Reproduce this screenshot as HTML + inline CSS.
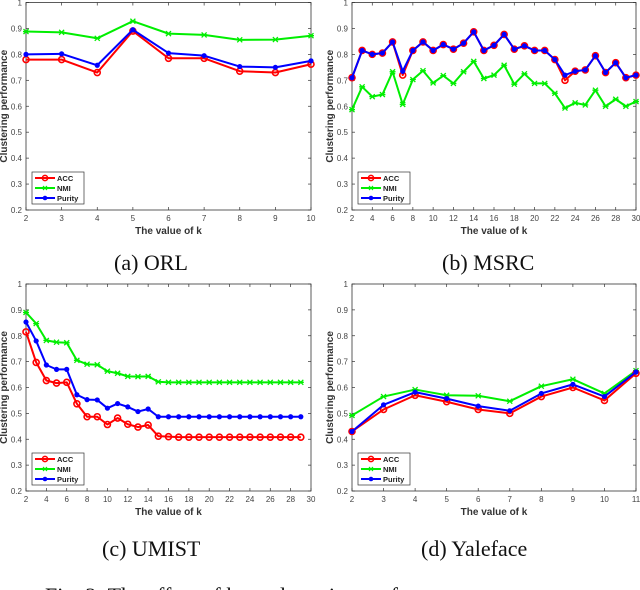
<!DOCTYPE html>
<html><head><meta charset="utf-8">
<style>
html,body{margin:0;padding:0;background:#fff;}
#wrap{position:relative;width:640px;height:590px;overflow:hidden;background:#fff;}
svg{position:absolute;left:0;top:0;}
.cap{position:absolute;font-family:"Liberation Serif",serif;font-size:22px;color:#111;white-space:nowrap;}
</style></head>
<body>
<div id="wrap">
<svg id="svg" width="640" height="590"></svg>
<div class="cap" style="left:114px;top:250px">(a) ORL</div>
<div class="cap" style="left:442px;top:250px">(b) MSRC</div>
<div class="cap" style="left:102px;top:536px">(c) UMIST</div>
<div class="cap" style="left:421px;top:536px">(d) Yaleface</div>
<div class="cap" style="left:45px;top:583px">Fig. 2: The effect of k on clustering performance</div>
</div>
<script>
const orlK=[2,3,4,5,6,7,8,9,10];
const orlACC=[.78,.78,.73,.89,.785,.785,.735,.73,.762];
const orlNMI=[.888,.885,.862,.928,.880,.875,.856,.857,.872];
const orlPur=[.80,.802,.758,.895,.805,.795,.753,.750,.775];
const orlTicks=[2,3,4,5,6,7,8,9,10];

const msrcK=[2,3,4,5,6,7,8,9,10,11,12,13,14,15,16,17,18,19,20,21,22,23,24,25,26,27,28,29,30];
const msrcACC=[.71,.815,.80,.805,.848,.72,.815,.848,.815,.838,.82,.843,.887,.815,.835,.877,.82,.833,.815,.815,.78,.70,.735,.74,.795,.73,.768,.71,.72];
const msrcNMI=[.587,.675,.637,.645,.733,.607,.703,.737,.69,.718,.688,.733,.773,.707,.72,.758,.685,.725,.688,.688,.65,.593,.613,.605,.662,.60,.627,.60,.618];
const msrcPur=[.71,.815,.80,.805,.848,.735,.815,.848,.815,.838,.82,.843,.887,.815,.835,.877,.82,.833,.815,.815,.78,.72,.735,.74,.795,.73,.768,.71,.72];
const msrcTicks=[2,4,6,8,10,12,14,16,18,20,22,24,26,28,30];

const umK=[2,3,4,5,6,7,8,9,10,11,12,13,14,15,16,17,18,19,20,21,22,23,24,25,26,27,28,29];
const umACC=[.815,.697,.627,.617,.62,.537,.487,.487,.457,.482,.458,.447,.455,.412,.41,.408,.408,.408,.408,.408,.408,.408,.408,.408,.408,.408,.408,.408];
const umNMI=[.89,.847,.782,.775,.773,.705,.69,.688,.663,.655,.643,.642,.643,.622,.62,.62,.62,.62,.62,.62,.62,.62,.62,.62,.62,.62,.62,.62];
const umPur=[.853,.78,.687,.67,.67,.572,.553,.552,.52,.538,.525,.507,.517,.487,.487,.487,.487,.487,.487,.487,.487,.487,.487,.487,.487,.487,.487,.487];
const umTicks=[2,4,6,8,10,12,14,16,18,20,22,24,26,28,30];

const yaK=[2,3,4,5,6,7,8,9,10,11];
const yaACC=[.43,.515,.57,.545,.515,.50,.565,.60,.55,.655];
const yaNMI=[.492,.565,.592,.57,.568,.547,.605,.632,.577,.665];
const yaPur=[.43,.533,.582,.557,.528,.51,.577,.612,.565,.66];
const yaTicks=[2,3,4,5,6,7,8,9,10,11];

const yTicks=[0.2,0.3,0.4,0.5,0.6,0.7,0.8,0.9,1];
const NS="http://www.w3.org/2000/svg";
const svg=document.getElementById('svg');
function mk(tag,attrs,parent){const e=document.createElementNS(NS,tag);for(const k in attrs)e.setAttribute(k,attrs[k]);(parent||svg).appendChild(e);return e;}

function panel(id,L,R,T,B,xmin,xmax,xticks,K,acc,nmi,pur){
  const g=mk('g',{});
  
  
  const sx=v=>L+(v-xmin)/(xmax-xmin)*(R-L);
  const sy=v=>B-(v-0.2)/0.8*(B-T);
  const fr=mk('rect',{x:L,y:T,width:R-L,height:B-T,fill:'#fff',stroke:'#333','stroke-width':0.8},g);
  
  
  yTicks.forEach(v=>{
    const y=sy(v);
    mk('line',{x1:L,x2:L+3,y1:y,y2:y,stroke:'#333','stroke-width':0.7},g);
    mk('line',{x1:R,x2:R-3,y1:y,y2:y,stroke:'#333','stroke-width':0.7},g);
    const t=mk('text',{x:L-4,y:y+3,'text-anchor':'end','font-family':'Liberation Sans, sans-serif','font-size':8,fill:'#444'},g);
    t.textContent=(v===1?'1':v.toFixed(1));
    
    
  });
  xticks.forEach(v=>{
    const x=sx(v);
    mk('line',{x1:x,x2:x,y1:B,y2:B-3,stroke:'#333','stroke-width':0.7},g);
    mk('line',{x1:x,x2:x,y1:T,y2:T+3,stroke:'#333','stroke-width':0.7},g);
    const t=mk('text',{x:x,y:B+11,'text-anchor':'middle','font-family':'Liberation Sans, sans-serif','font-size':8,fill:'#444'},g);
    t.textContent=v;
    
    
  });
  const xl=mk('text',{x:(L+R)/2,y:B+24,'text-anchor':'middle','font-family':'Liberation Sans, sans-serif','font-size':10,'font-weight':'bold',fill:'#333'},g);
  xl.textContent='The value of k';
  
  
  const cy=(T+B)/2;
  const yl=mk('text',{x:L-19,y:cy,'text-anchor':'middle','font-family':'Liberation Sans, sans-serif','font-size':10,'font-weight':'bold',fill:'#333',transform:`rotate(-90 ${L-19} ${cy})`},g);
  yl.textContent='Clustering performance';
  
  
  const series=[['nmi',nmi,'#00ee00'],['acc',acc,'#ff0000'],['purity',pur,'#0000ff']];
  series.forEach(([nm,vals,c])=>{
    const pts=vals.map((v,i)=>sx(K[i])+','+sy(v)).join(' ');
    const pl=mk('polyline',{points:pts,fill:'none',stroke:c,'stroke-width':2,'stroke-linejoin':'round'},g);
    
    
    vals.forEach((v,i)=>{
      const x=sx(K[i]),y=sy(v);
      let m;
      if(nm==='acc') m=mk('circle',{cx:x,cy:y,r:3,fill:'none',stroke:c,'stroke-width':1.6},g);
      else if(nm==='purity') m=mk('circle',{cx:x,cy:y,r:2.6,fill:c},g);
      else m=mk('path',{d:`M${x-2.5},${y-2.5}L${x+2.5},${y+2.5}M${x-2.5},${y+2.5}L${x+2.5},${y-2.5}M${x-3},${y}L${x+3},${y}`,stroke:c,'stroke-width':1.3},g);
      
      
    });
  });
  const lx=L+6,ly=B-38;
  const lg=mk('g',{},g);
  
  
  mk('rect',{x:lx,y:ly,width:52,height:32,fill:'#fff',stroke:'#333','stroke-width':0.7},lg);
  [['ACC','#ff0000','acc'],['NMI','#00ee00','nmi'],['Purity','#0000ff','purity']].forEach(([lab,c,nm],i)=>{
    const yy=ly+6+i*10;
    mk('line',{x1:lx+3,x2:lx+23,y1:yy,y2:yy,stroke:c,'stroke-width':2},lg);
    if(nm==='acc') mk('circle',{cx:lx+13,cy:yy,r:2.6,fill:'none',stroke:c,'stroke-width':1.5},lg);
    else if(nm==='purity') mk('circle',{cx:lx+13,cy:yy,r:2.3,fill:c},lg);
    else mk('path',{d:`M${lx+11},${yy-2}L${lx+15},${yy+2}M${lx+11},${yy+2}L${lx+15},${yy-2}`,stroke:c,'stroke-width':1.2},lg);
    const t=mk('text',{x:lx+25,y:yy+3,'font-family':'Liberation Sans, sans-serif','font-size':7.5,'font-weight':'bold',fill:'#222'},lg);
    t.textContent=lab;
    
    
  });
}
panel('orl',26,311,2.5,210,2,10,orlTicks,orlK,orlACC,orlNMI,orlPur);
panel('msrc',352,636,2.5,210,2,30,msrcTicks,msrcK,msrcACC,msrcNMI,msrcPur);
panel('umist',26,311,284,491,2,30,umTicks,umK,umACC,umNMI,umPur);
panel('yaleface',352,636,284,491,2,11,yaTicks,yaK,yaACC,yaNMI,yaPur);
</script>
</body></html>
